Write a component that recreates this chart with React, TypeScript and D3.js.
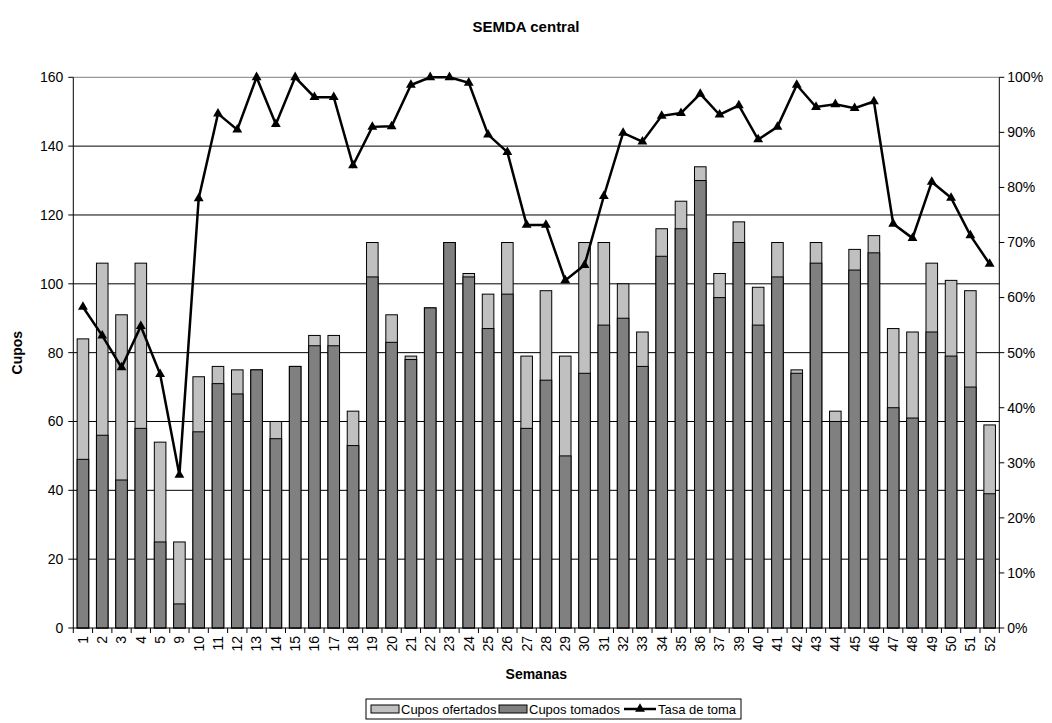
import React from "react";
import * as d3 from "d3";

const weeks = ["1","2","3","4","5","9","10","11","12","13","14","15","16","17","18","19","20","21","22","23","24","25","26","27","28","29","30","31","32","33","34","35","36","37","39","40","41","42","43","44","45","46","47","48","49","50","51","52"];
const cuposOfertados = [84,106,91,106,54,25,73,76,75,75,60,76,85,85,63,112,91,79,93,112,103,97,112,79,98,79,112,112,100,86,116,124,134,103,118,99,112,75,112,63,110,114,87,86,106,101,98,59];
const cuposTomados = [49,56,43,58,25,7,57,71,68,75,55,76,82,82,53,102,83,78,93,112,102,87,97,58,72,50,74,88,90,76,108,116,130,96,112,88,102,74,106,60,104,109,64,61,86,79,70,39];
const tasaToma = [0.583,0.531,0.473,0.548,0.461,0.278,0.78,0.934,0.905,1.0,0.915,1.0,0.964,0.964,0.84,0.91,0.911,0.986,1.0,1.0,0.99,0.896,0.864,0.732,0.732,0.631,0.659,0.784,0.899,0.883,0.93,0.935,0.97,0.932,0.949,0.887,0.91,0.986,0.946,0.951,0.944,0.956,0.734,0.708,0.81,0.781,0.713,0.661];
const leftTicks = [0,20,40,60,80,100,120,140,160];
const rightTicks = [0,0.1,0.2,0.3,0.4,0.5,0.6,0.7,0.8,0.9,1.0];

const FONT = "Arial, 'Liberation Sans', sans-serif";

export default function App() {
  const W = 1052, H = 723;
  const left = 73.3, right = 999.3, top = 77.3, bottom = 628;
  const x = d3.scaleBand<string>().domain(weeks).range([left, right]).paddingInner(0.4).paddingOuter(0.2);
  const y = d3.scaleLinear().domain([0, 160]).range([bottom, top]);
  const yp = d3.scaleLinear().domain([0, 1]).range([bottom, top]);
  const step = x.step();
  const bw = x.bandwidth();
  const cx = (w: string) => (x(w) as number) + bw / 2;
  const line = d3.line<number>().x((_, i) => cx(weeks[i])).y(d => yp(d));
  const tri = d3.symbol().type(d3.symbolTriangle).size(42)() as string;
  const fmtPct = d3.format(".0%");

  const legY = 699, legH = 20, legMid = legY + legH / 2;

  return (
    <svg width={W} height={H} style={{ position: "absolute", left: 0, top: 0, background: "#fff" }} fontFamily={FONT}>
      <rect x={0} y={0} width={W} height={H} fill="#fff" />
      <text x={526} y={32} textAnchor="middle" fontWeight="bold" fontSize={15}>SEMDA central</text>

      {/* gridlines */}
      {leftTicks.filter(t => t > 0).map(t => (
        <line key={"g" + t} x1={left} x2={right} y1={y(t)} y2={y(t)} stroke={t === 160 ? "#808080" : "#000"} strokeWidth={1} />
      ))}

      {/* bars */}
      {weeks.map((w, i) => (
        <g key={"b" + w}>
          <rect x={x(w)} y={y(cuposOfertados[i])} width={bw} height={y(0) - y(cuposOfertados[i])} fill="#c0c0c0" stroke="#000" strokeWidth={1} />
          <rect x={x(w)} y={y(cuposTomados[i])} width={bw} height={y(0) - y(cuposTomados[i])} fill="#808080" stroke="#000" strokeWidth={1} />
        </g>
      ))}

      {/* axes */}
      <line x1={left} x2={left} y1={top} y2={bottom} stroke="#000" />
      <line x1={right} x2={right} y1={top} y2={bottom} stroke="#000" />
      <line x1={left} x2={right} y1={bottom} y2={bottom} stroke="#000" />
      {leftTicks.map(t => (
        <g key={"lt" + t}>
          <line x1={left - 5} x2={left} y1={y(t)} y2={y(t)} stroke="#000" />
          <text x={left - 10} y={y(t)} dy="0.35em" textAnchor="end" fontSize={14}>{t}</text>
        </g>
      ))}
      {rightTicks.map(t => (
        <g key={"rt" + t}>
          <line x1={right} x2={right + 5} y1={yp(t)} y2={yp(t)} stroke="#000" />
          <text x={right + 8} y={yp(t)} dy="0.35em" textAnchor="start" fontSize={14}>{fmtPct(t)}</text>
        </g>
      ))}
      {d3.range(weeks.length + 1).map(k => (
        <line key={"xt" + k} x1={left + k * step} x2={left + k * step} y1={bottom} y2={bottom + 5} stroke="#000" />
      ))}
      {weeks.map(w => (
        <text key={"xl" + w} transform={`translate(${cx(w)},${bottom + 8}) rotate(-90)`} dy="0.35em" textAnchor="end" fontSize={14}>{w}</text>
      ))}

      {/* line */}
      <path d={line(tasaToma) as string} fill="none" stroke="#000" strokeWidth={2.5} strokeLinejoin="miter" />
      {tasaToma.map((v, i) => (
        <path key={"m" + i} d={tri} transform={`translate(${cx(weeks[i])},${yp(v)})`} fill="#000" />
      ))}

      {/* axis titles */}
      <text transform={`translate(22,${(top + bottom) / 2}) rotate(-90)`} textAnchor="middle" fontWeight="bold" fontSize={14}>Cupos</text>
      <text x={(left + right) / 2} y={679} textAnchor="middle" fontWeight="bold" fontSize={14}>Semanas</text>

      {/* legend */}
      <rect x={366} y={legY} width={375} height={legH} fill="#fff" stroke="#000" strokeWidth={1} />
      <rect x={371} y={legMid - 4} width={28} height={8} fill="#c0c0c0" stroke="#000" />
      <text x={401} y={legMid} dy="0.35em" fontSize={13}>Cupos ofertados</text>
      <rect x={499} y={legMid - 4} width={28} height={8} fill="#808080" stroke="#000" />
      <text x={529} y={legMid} dy="0.35em" fontSize={13}>Cupos tomados</text>
      <line x1={624} x2={656} y1={legMid} y2={legMid} stroke="#000" strokeWidth={2.5} />
      <path d={tri} transform={`translate(640,${legMid})`} fill="#000" />
      <text x={658} y={legMid} dy="0.35em" fontSize={13}>Tasa de toma</text>
    </svg>
  );
}
